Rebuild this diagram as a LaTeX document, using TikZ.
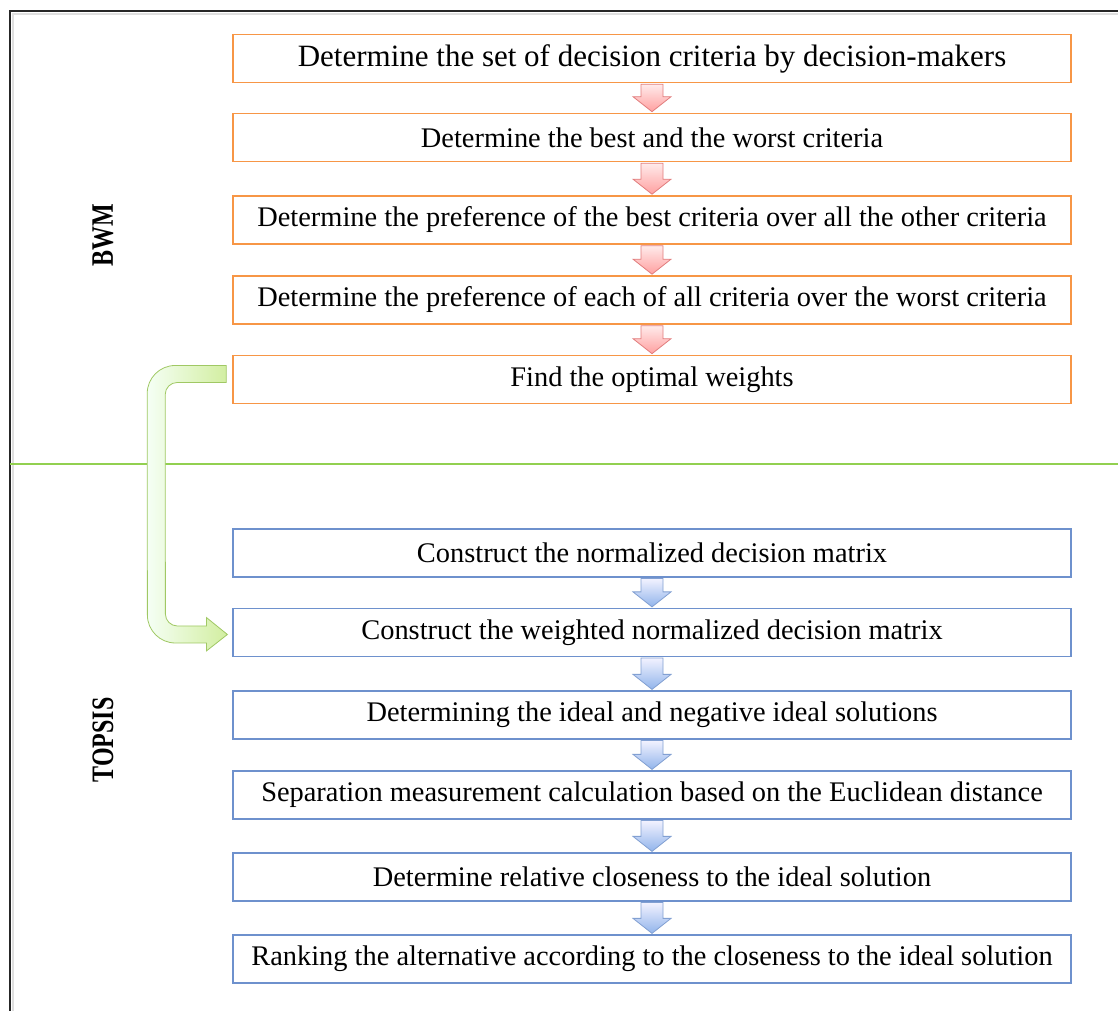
\documentclass[tikz,border=0pt]{standalone}
\usepackage{fontspec}
\setmainfont{Liberation Serif}
\usetikzlibrary{calc}
\definecolor{narancs}{RGB}{247,150,70}
\definecolor{kek}{RGB}{110,145,205}
\definecolor{zold}{RGB}{146,208,80}
\definecolor{rozsa}{RGB}{255,160,160}
\definecolor{rozsakeret}{RGB}{225,125,125}
\definecolor{egkek}{RGB}{145,180,235}
\definecolor{egkeret}{RGB}{130,160,210}
\definecolor{halvanyzold}{RGB}{210,238,160}
\definecolor{zoldkeret}{RGB}{160,200,100}
\begin{document}
\begin{tikzpicture}[x=1pt,y=1pt,
    doboz/.style={draw=narancs,line width=1.6pt,minimum width=838pt,minimum height=48pt,inner sep=0pt,font=\fontsize{28.4}{30}\selectfont},
    kekdoboz/.style={doboz,draw=kek,line width=1.2pt},
    pirosnyil/.style={draw=rozsakeret,line width=0.8pt,top color=red!8,bottom color=rozsa},
    keknyil/.style={draw=egkeret,line width=0.8pt,top color=blue!5,bottom color=egkek},
    felirat/.style={rotate=90,yscale=1.3,font=\fontsize{24}{26}\selectfont\bfseries}]
    \useasboundingbox (0,0) rectangle (1118,1011);
    %keret es elvalaszto vonal
    \draw[gray!25,line width=2pt] (13,0) -- (13,997) -- (1118,997);
    \draw[black!85,line width=1.4pt] (10,0) -- (10,1000) -- (1118,1000);
    \draw[zold,line width=1.4pt] (10,547) -- (1118,547);
    \node[felirat] (bwm) at (103,776) {BWM};
    \node[felirat] (topsis) at (103,271) {TOPSIS};
    %BWM lepesei
    \node[doboz,font=\fontsize{31}{33}\selectfont] (o1) at (652,952.5) {Determine the set of decision criteria by decision-makers};
    \node[doboz] (o2) at (652,873.5) {Determine the best and the worst criteria};
    \node[doboz] (o3) at (652,791) {Determine the preference of the best criteria over all the other criteria};
    \node[doboz] (o4) at (652,711) {Determine the preference of each of all criteria over the worst criteria};
    \node[doboz] (o5) at (652,631.5) {Find the optimal weights};
    %TOPSIS lepesei
    \node[kekdoboz] (b1) at (652,458) {Construct the normalized decision matrix};
    \node[kekdoboz] (b2) at (652,378.5) {Construct the weighted normalized decision matrix};
    \node[kekdoboz] (b3) at (652,296) {Determining the ideal and negative ideal solutions};
    \node[kekdoboz] (b4) at (652,216) {Separation measurement calculation based on the Euclidean distance};
    \node[kekdoboz] (b5) at (652,134) {Determine relative closeness to the ideal solution};
    \node[kekdoboz] (b6) at (652,52) {Ranking the alternative according to the closeness to the ideal solution};
    %lefele mutato nyilak
    \foreach \a/\b/\s in {o1/o2/pirosnyil,o2/o3/pirosnyil,o3/o4/pirosnyil,o4/o5/pirosnyil,
                          b1/b2/keknyil,b2/b3/keknyil,b3/b4/keknyil,b4/b5/keknyil,b5/b6/keknyil}
        \draw[\s] ($(\a.south)+(-11,-1)$) -- ($(\b.north)+(-11,16)$) -- ($(\b.north)+(-19,16)$)
            -- ($(\b.north)+(0,1)$) -- ($(\b.north)+(19,16)$) -- ($(\b.north)+(11,16)$)
            -- ($(\a.south)+(11,-1)$) -- cycle;
    %a sulyok atvitele
    \coordinate (ki) at ($(o5.west)+(-6,5.5)$);
    \coordinate (be) at ($(b2.west)+(-5,-2)$);
    \draw[draw=zoldkeret,line width=0.8pt,left color=green!4,right color=halvanyzold,rounded corners=28pt]
        ($(ki)+(0,8.5)$) -- ($(ki)+(-79,8.5)$) -- ($(be)+(-80,-8.5)$) [sharp corners] -- ($(be)+(-21,-8.5)$)
        -- ($(be)+(-21,-16.5)$) -- (be) -- ($(be)+(-21,17)$) -- ($(be)+(-21,8.5)$) [rounded corners=12pt]
        -- ($(be)+(-62,8.5)$) -- ($(ki)+(-61,-8.5)$) [sharp corners] -- ($(ki)+(0,-8.5)$) -- cycle;
\end{tikzpicture}
\end{document}
